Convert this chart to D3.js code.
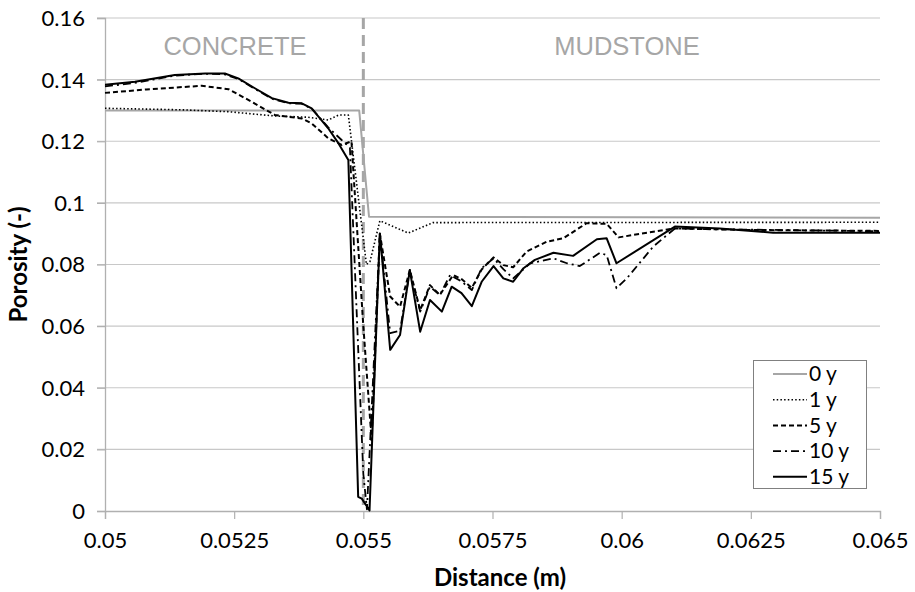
<!DOCTYPE html>
<html><head><meta charset="utf-8">
<script src="https://cdn.jsdelivr.net/npm/d3@7"></script>
<style>
body{margin:0;background:#fff;}
svg{display:block;}
</style></head>
<body>
<svg id="chart" width="915" height="592"></svg>
<script>
// ---- data ----
const seriesNames = ["0 y", "1 y", "5 y", "10 y", "15 y"];
const xTicks = [0.05, 0.0525, 0.055, 0.0575, 0.06, 0.0625, 0.065];
const yTicks = [0, 0.02, 0.04, 0.06, 0.08, 0.1, 0.12, 0.14, 0.16];
const interfaceX = 0.055;
const zoneLabels = ["CONCRETE", "MUDSTONE"];

const y0 = [[0.05,0.13],[0.05492,0.13],[0.05511,0.0955],[0.065,0.0952]];
const y1 = [[0.05,0.1307],[0.0515,0.1302],[0.05238,0.1296],[0.05329,0.1282],[0.05393,0.1278],[0.05432,0.1269],[0.05452,0.1285],[0.05471,0.1285],[0.05506,0.0800],[0.05513,0.0810],[0.05532,0.0942],[0.05587,0.0902],[0.05635,0.0936],[0.065,0.0937]];
const y5 = [[0.05,0.1357],[0.0508,0.1368],[0.05187,0.1380],[0.05239,0.1369],[0.05284,0.1328],[0.05329,0.1285],[0.05381,0.1274],[0.054,0.1258],[0.05432,0.1210],[0.05458,0.1188],[0.05477,0.1200],[0.05500,0.0600],[0.05516,0.0230],[0.05532,0.0900],[0.05552,0.0696],[0.05571,0.0663],[0.0559,0.0782],[0.0561,0.0652],[0.05629,0.0733],[0.05648,0.0701],[0.05674,0.0766],[0.0569,0.0753],[0.0571,0.0724],[0.05729,0.0784],[0.05752,0.0823],[0.05771,0.0798],[0.0579,0.0791],[0.05816,0.0842],[0.05855,0.0874],[0.05887,0.0885],[0.05932,0.0934],[0.05971,0.0932],[0.05994,0.0888],[0.061,0.0917],[0.0625,0.0912],[0.065,0.0909]];
const y10 = [[0.05,0.1378],[0.0506,0.1390],[0.05135,0.1413],[0.0519,0.1419],[0.0523,0.1418],[0.05258,0.1402],[0.0529,0.1370],[0.05323,0.1338],[0.05355,0.1323],[0.0538,0.1322],[0.054,0.1306],[0.05432,0.1245],[0.05458,0.1204],[0.05474,0.1180],[0.05500,0.0120],[0.05507,0.0005],[0.05532,0.0900],[0.05552,0.0577],[0.05571,0.0585],[0.0559,0.0780],[0.0561,0.0647],[0.05629,0.0728],[0.05648,0.0701],[0.05668,0.0766],[0.0569,0.0745],[0.0571,0.0717],[0.05729,0.0788],[0.05752,0.0820],[0.05771,0.0785],[0.0579,0.0755],[0.05823,0.0804],[0.05868,0.0820],[0.05894,0.0804],[0.05919,0.0795],[0.05958,0.0838],[0.05971,0.0830],[0.0599,0.0723],[0.0601,0.0755],[0.06061,0.0858],[0.06103,0.0917],[0.0615,0.0915],[0.065,0.0908]];
const y15 = [[0.05,0.1383],[0.05058,0.1393],[0.05135,0.1415],[0.05194,0.1420],[0.05232,0.1420],[0.05258,0.1404],[0.0529,0.1372],[0.05323,0.1340],[0.05355,0.1325],[0.05381,0.1323],[0.054,0.1307],[0.05432,0.1242],[0.05452,0.1193],[0.05471,0.1139],[0.0549,0.0046],[0.05497,0.0040],[0.05512,0.0002],[0.05532,0.0901],[0.05552,0.0523],[0.05571,0.0571],[0.0559,0.0782],[0.0561,0.0582],[0.05629,0.0685],[0.05652,0.0647],[0.05671,0.0728],[0.0569,0.0707],[0.0571,0.0665],[0.05729,0.0744],[0.05752,0.0795],[0.05771,0.0755],[0.0579,0.0744],[0.0581,0.0788],[0.05832,0.0815],[0.05868,0.0838],[0.05906,0.0828],[0.05952,0.0882],[0.05971,0.0885],[0.0599,0.0804],[0.06103,0.0923],[0.0619,0.0917],[0.06293,0.0903],[0.065,0.0903]];

const seriesData = [y0, y1, y5, y10, y15];

// ---- styles ----
const styles = [
  {stroke:"#a6a6a6", width:2, dash:null},
  {stroke:"#000", width:1.6, dash:"1.5,2.2"},
  {stroke:"#000", width:2, dash:"5,3"},
  {stroke:"#000", width:1.8, dash:"8,4,2,4"},
  {stroke:"#000", width:2, dash:null}
];

const svg = d3.select("#chart");
const m = {left:105, right:35, top:18, bottom:81};
const W = 915, H = 592;
const x = d3.scaleLinear().domain([0.05, 0.065]).range([m.left, W - m.right]);
const y = d3.scaleLinear().domain([0, 0.16]).range([H - m.bottom, m.top]);
const font = "Lato, 'Open Sans', sans-serif";

// gridlines
svg.append("g").selectAll("line").data(yTicks.filter(d => d > 0)).join("line")
  .attr("x1", x(0.05) - 8).attr("x2", x(0.065))
  .attr("y1", d => y(d)).attr("y2", d => y(d))
  .attr("stroke", "#c8c8c8").attr("stroke-width", 1.2);

// axes
const xAxis = d3.axisBottom(x).tickValues(xTicks).tickSize(8).tickPadding(10)
  .tickFormat(d => String(+d.toFixed(4)));
const gx = svg.append("g").attr("transform", `translate(0,${y(0)})`).call(xAxis);
const yAxis = d3.axisLeft(y).tickValues(yTicks).tickSize(8).tickPadding(12)
  .tickFormat(d => String(+d.toFixed(2)));
const gy = svg.append("g").attr("transform", `translate(${x(0.05)},0)`).call(yAxis);
[gx, gy].forEach(g => {
  g.select(".domain").attr("stroke", "#b0b0b0").attr("stroke-width", 1.3);
  g.selectAll(".tick line").attr("stroke", "#b0b0b0").attr("stroke-width", 1.2);
  g.selectAll(".tick text").attr("fill", "#000").style("font-family", font).style("font-size", "22px");
});
gy.selectAll(".tick text").attr("dy", "0.34em");
gx.selectAll(".tick text").attr("dy", "0.85em");

// interface line
svg.append("line")
  .attr("x1", x(interfaceX)).attr("x2", x(interfaceX))
  .attr("y1", y(0.16)).attr("y2", y(0))
  .attr("stroke", "#a6a6a6").attr("stroke-width", 3).attr("stroke-dasharray", "11,6");

// zone labels
const zoneFont = "'Liberation Sans', Arial, sans-serif";
svg.append("text").attr("x", 235).attr("y", 55).attr("text-anchor", "middle")
  .attr("fill", "#a6a6a6").style("font-family", zoneFont).style("font-size", "25.5px")
  .text(zoneLabels[0]);
svg.append("text").attr("x", 627).attr("y", 55).attr("text-anchor", "middle")
  .attr("fill", "#a6a6a6").style("font-family", zoneFont).style("font-size", "25.5px")
  .text(zoneLabels[1]);

// lines
const line = d3.line().x(d => x(d[0])).y(d => y(d[1]));
seriesData.forEach((data, i) => {
  svg.append("path").datum(data)
    .attr("d", line).attr("fill", "none")
    .attr("stroke", styles[i].stroke).attr("stroke-width", styles[i].width)
    .attr("stroke-dasharray", styles[i].dash).attr("stroke-linejoin", "round");
});

// axis titles
svg.append("text").attr("transform", `translate(27,${(y(0)+y(0.16))/2}) rotate(-90)`)
  .attr("text-anchor", "middle").style("font-family", font).style("font-size", "24px")
  .style("font-weight", "bold").text("Porosity (-)");
svg.append("text").attr("x", 500).attr("y", 586)
  .attr("text-anchor", "middle").style("font-family", font).style("font-size", "24px")
  .style("font-weight", "bold").text("Distance (m)");

// legend
const lg = svg.append("g");
lg.append("rect").attr("x", 753.5).attr("y", 360.5).attr("width", 113).attr("height", 128)
  .attr("fill", "#fff").attr("stroke", "#808080").attr("stroke-width", 1);
seriesNames.forEach((name, i) => {
  const yy = 374 + i * 25.7;
  lg.append("line").attr("x1", 773).attr("x2", 807).attr("y1", yy).attr("y2", yy)
    .attr("stroke", styles[i].stroke).attr("stroke-width", styles[i].width)
    .attr("stroke-dasharray", styles[i].dash);
  lg.append("text").attr("x", 809).attr("y", yy).attr("dy", "0.35em")
    .style("font-family", font).style("font-size", "21px").text(name);
});
</script>
</body></html>
